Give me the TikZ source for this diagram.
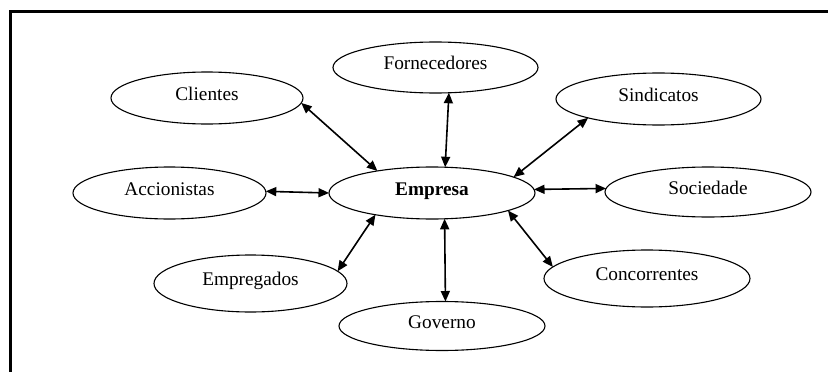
\documentclass[tikz,border=0pt]{standalone}
\usepackage{fontspec}
\setmainfont{Liberation Serif}
\usetikzlibrary{arrows.meta,shapes.geometric}
\begin{document}
\begin{tikzpicture}[x=1pt,y=-1pt,
  ell/.style={draw, ellipse, line width=1.1pt, inner sep=0pt, outer sep=0pt,
    text height=10pt, text depth=6pt,
    font=\fontsize{19.3}{23}\selectfont},
  link/.style={line width=1.6pt, {Triangle[length=10.5pt,width=9pt]}-{Triangle[length=10.5pt,width=9pt]}},
  frame/.style={line width=3pt}]
\useasboundingbox (0,0) rectangle (828,372);
\coordinate (ftr) at (828,11);
\coordinate (ftl) at (10,11);
\coordinate (fbl) at (10,372);
\draw[frame] (ftr) -- (ftl) -- (fbl);

\node[ell, minimum width=206pt, minimum height=52pt] (emp) at (432,193) {\bfseries Empresa};
\node[ell, minimum width=192pt, minimum height=52pt] (cli) at (207,98) {Clientes};
\node[ell, minimum width=193pt, minimum height=52pt] (acc) at (169.5,193) {Accionistas};
\node[ell, minimum width=205pt, minimum height=51pt] (for) at (435.5,67.5) {Fornecedores};
\node[ell, minimum width=205pt, minimum height=52pt] (sin) at (658.5,99) {Sindicatos};
\node[ell, minimum width=206pt, minimum height=50pt] (soc) at (708,192) {Sociedade};
\node[ell, minimum width=193pt, minimum height=57pt] (epg) at (250.5,283.5) {Empregados};
\node[ell, minimum width=206pt, minimum height=57pt] (con) at (647,278.5) {Concorrentes};
\node[ell, minimum width=206pt, minimum height=49pt] (gov) at (442,326) {Governo};

\draw[link] (cli.-3) -- (emp.158);
\draw[link] (acc.1) -- (emp.180);
\draw[link] (for.-62.4) -- (emp.63.2);
\draw[link] (sin.195.6) -- (emp.11.1);
\draw[link] (emp.2) -- (soc.178.5);
\draw[link] (epg.8) -- (emp.201.8);
\draw[link] (emp.-64.6) -- (gov.82);
\draw[link] (emp.-13.2) -- (con.173.2);
\end{tikzpicture}
\end{document}
